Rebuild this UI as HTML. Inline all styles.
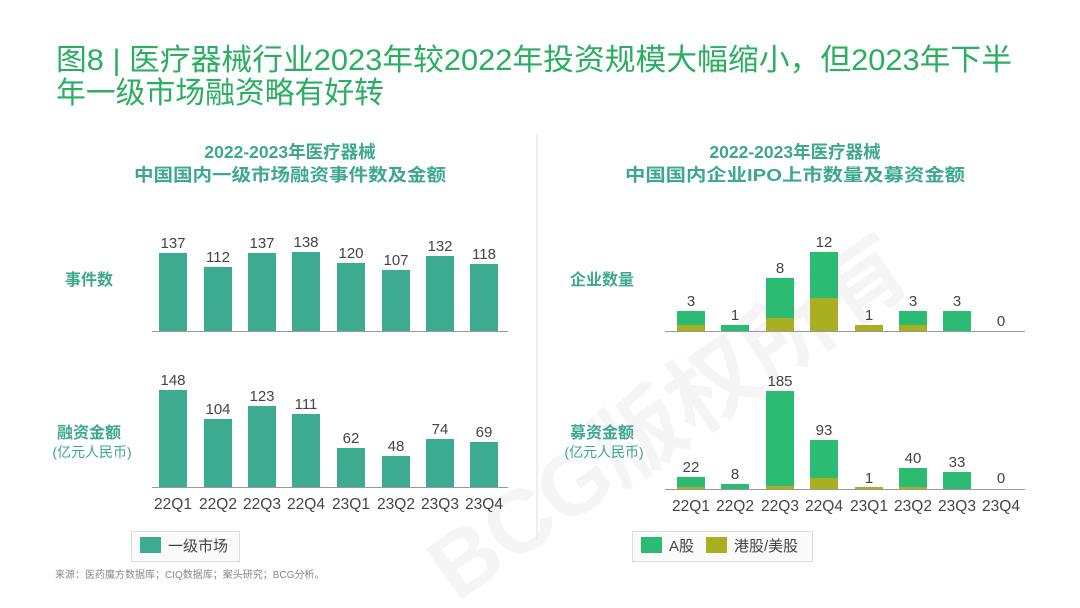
<!DOCTYPE html>
<html><head><meta charset="utf-8"><style>
body{margin:0;width:1080px;height:608px;overflow:hidden;background:#fff;font-family:"Liberation Sans","Noto Sans CJK SC",sans-serif;}
</style></head><body>
<svg width="1080" height="608" xmlns="http://www.w3.org/2000/svg" style="position:absolute;left:0;top:0;font-family:'Liberation Sans','Noto Sans CJK SC',sans-serif">
<text x="56" y="70" font-size="30" fill="#2aae62" textLength="956" lengthAdjust="spacingAndGlyphs">图8 | 医疗器械行业2023年较2022年投资规模大幅缩小，但2023年下半</text>
<text x="56" y="103" font-size="30" fill="#2aae62" textLength="328" lengthAdjust="spacingAndGlyphs">年一级市场融资略有好转</text>
<text x="330" y="498" font-size="90" font-weight="bold" fill="#000" opacity="0.035" transform="rotate(-35 560 350)">BCG版权所有</text>
<line x1="537" y1="135" x2="537" y2="540" stroke="#eee" stroke-width="2"/>
<g font-size="17.5" font-weight="bold" fill="#3da88e" text-anchor="middle">
<text x="290" y="158">2022-2023年医疗器械</text>
<text x="290" y="181" textLength="312" lengthAdjust="spacingAndGlyphs">中国国内一级市场融资事件数及金额</text>
<text x="795" y="158">2022-2023年医疗器械</text>
<text x="795" y="181" textLength="340" lengthAdjust="spacingAndGlyphs">中国国内企业IPO上市数量及募资金额</text>
</g>
<g font-size="16" font-weight="bold" fill="#3da88e" text-anchor="middle">
<text x="89" y="285">事件数</text>
<text x="89" y="438">融资金额</text>
<text x="602" y="285">企业数量</text>
<text x="602" y="438">募资金额</text>
</g>
<g font-size="14" fill="#3da88e" text-anchor="middle">
<text x="92" y="457">(亿元人民币)</text>
<text x="604" y="457">(亿元人民币)</text>
</g>
<g fill="#3dab90">
<rect x="159" y="253" width="28" height="78"/><rect x="204" y="267" width="28" height="64"/><rect x="248" y="253" width="28" height="78"/><rect x="292" y="252" width="28" height="79"/><rect x="337" y="263" width="28" height="68"/><rect x="382" y="270" width="28" height="61"/><rect x="426" y="256" width="28" height="75"/><rect x="470" y="264" width="28" height="67"/>
<rect x="159" y="390" width="28" height="97"/><rect x="204" y="419" width="28" height="68"/><rect x="248" y="406" width="28" height="81"/><rect x="292" y="414" width="28" height="73"/><rect x="337" y="448" width="28" height="39"/><rect x="382" y="456" width="28" height="31"/><rect x="426" y="439" width="28" height="48"/><rect x="470" y="442" width="28" height="45"/>
</g>
<line x1="152" y1="331.5" x2="508" y2="331.5" stroke="#999"/>
<line x1="152" y1="487.5" x2="508" y2="487.5" stroke="#999"/>
<g font-size="15" fill="#444" text-anchor="middle">
<text x="173" y="248">137</text><text x="218" y="262">112</text><text x="262" y="248">137</text><text x="306" y="247">138</text><text x="351" y="258">120</text><text x="396" y="265">107</text><text x="440" y="251">132</text><text x="484" y="259">118</text>
<text x="173" y="385">148</text><text x="218" y="414">104</text><text x="262" y="401">123</text><text x="306" y="409">111</text><text x="351" y="443">62</text><text x="396" y="451">48</text><text x="440" y="434">74</text><text x="484" y="437">69</text>
<g font-size="15.5"><text x="173" y="509">22Q1</text><text x="218" y="509">22Q2</text><text x="262" y="509">22Q3</text><text x="306" y="509">22Q4</text><text x="351" y="509">23Q1</text><text x="396" y="509">23Q2</text><text x="440" y="509">23Q3</text><text x="484" y="509">23Q4</text></g>
</g>
<g fill="#2bbb73">
<rect x="677" y="311" width="28" height="20"/><rect x="721" y="325" width="28" height="6"/><rect x="766" y="278" width="28" height="53"/><rect x="810" y="252" width="28" height="79"/><rect x="899" y="311" width="28" height="20"/><rect x="943" y="311" width="28" height="20"/>
<rect x="677" y="477" width="28" height="12"/><rect x="721" y="484" width="28" height="5"/><rect x="766" y="391" width="28" height="98"/><rect x="810" y="440" width="28" height="49"/><rect x="899" y="468" width="28" height="21"/><rect x="943" y="472" width="28" height="17"/>
</g>
<g fill="#a8b022">
<rect x="677" y="325" width="28" height="6"/><rect x="766" y="318" width="28" height="13"/><rect x="810" y="298" width="28" height="33"/><rect x="855" y="325" width="28" height="6"/><rect x="899" y="325" width="28" height="6"/>
<rect x="677" y="487" width="28" height="2"/><rect x="766" y="486" width="28" height="3"/><rect x="810" y="478" width="28" height="11"/><rect x="855" y="487" width="28" height="2"/><rect x="899" y="487" width="28" height="2"/>
</g>
<line x1="665" y1="331.5" x2="1025" y2="331.5" stroke="#999"/>
<line x1="665" y1="489.5" x2="1025" y2="489.5" stroke="#999"/>
<g font-size="15" fill="#444" text-anchor="middle">
<text x="691" y="306">3</text><text x="735" y="320">1</text><text x="780" y="273">8</text><text x="824" y="247">12</text><text x="869" y="320">1</text><text x="913" y="306">3</text><text x="957" y="306">3</text><text x="1001" y="326">0</text>
<text x="691" y="472">22</text><text x="735" y="479">8</text><text x="780" y="386">185</text><text x="824" y="435">93</text><text x="869" y="483">1</text><text x="913" y="463">40</text><text x="957" y="467">33</text><text x="1001" y="483">0</text>
<g font-size="15.5"><text x="691" y="511">22Q1</text><text x="735" y="511">22Q2</text><text x="780" y="511">22Q3</text><text x="824" y="511">22Q4</text><text x="869" y="511">23Q1</text><text x="913" y="511">23Q2</text><text x="957" y="511">23Q3</text><text x="1001" y="511">23Q4</text></g>
</g>
<rect x="131.5" y="531.5" width="108" height="30" fill="#fafafa" stroke="#ddd"/>
<rect x="140" y="537" width="21" height="16" fill="#3dab90"/>
<text x="168" y="551" font-size="15" fill="#444">一级市场</text>
<rect x="632.5" y="531.5" width="180" height="30" fill="#fafafa" stroke="#ddd"/>
<rect x="641" y="537" width="21" height="16" fill="#2bbb73"/>
<text x="669" y="551" font-size="15" fill="#444">A股</text>
<rect x="706" y="537" width="21" height="16" fill="#a8b022"/>
<text x="734" y="551" font-size="15" fill="#444">港股/美股</text>
<text x="55" y="578" font-size="10" fill="#888">来源：医药魔方数据库；CIQ数据库；案头研究；BCG分析。</text>
</svg>
</body></html>
